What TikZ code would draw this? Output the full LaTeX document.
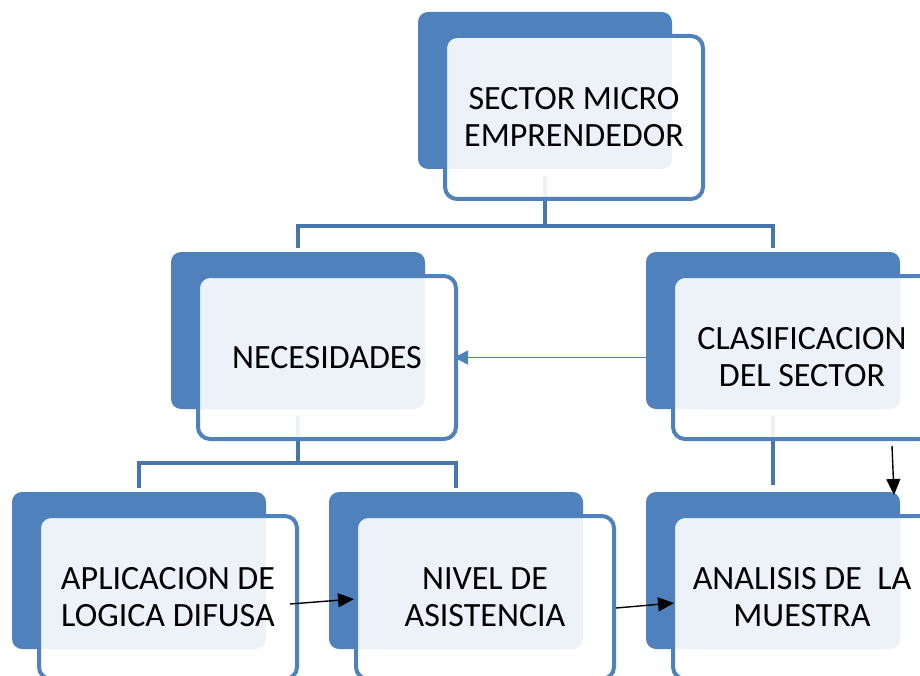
\documentclass[tikz,border=0pt]{standalone}
\usepackage{fontspec}
\setmainfont{Carlito}
\usetikzlibrary{arrows.meta,calc}
\definecolor{accblue}{RGB}{79,129,189}
\definecolor{connblue}{RGB}{72,118,172}
\tikzset{
  darkbox/.style={fill=accblue,draw=none,rounded corners=10pt,minimum width=254pt,minimum height=157pt,inner sep=0pt,outer sep=0pt},
  frontbox/.style={draw=accblue,line width=4pt,fill=white,fill opacity=0.9,text opacity=1,rounded corners=12pt,
    minimum width=258pt,minimum height=163pt,inner sep=0pt,outer sep=0pt,align=center,
    font=\fontsize{34}{37}\selectfont},
  conn/.style={draw=connblue,line width=4pt},
  blkarrow/.style={draw=black,line width=1.4pt,-{Triangle[length=16pt,width=14pt]}},
  bluearrow/.style={draw=accblue,line width=1.4pt,-{Triangle[length=14pt,width=14pt,fill=accblue]}}
}
\begin{document}
\begin{tikzpicture}[x=1pt,y=-1pt]
\useasboundingbox (0,0) rectangle (920,676);
\clip (0,0) rectangle (920,676);
% dark back rectangles
\node[darkbox] (topD) at (545,90.5) {};
\node[darkbox] (necD) at (298,330.5) {};
\node[darkbox] (claD) at (773,330.5) {};
\node[darkbox] (aplD) at (139,570.5) {};
\node[darkbox] (nivD) at (456,570.5) {};
\node[darkbox] (anaD) at (773,570.5) {};
% connectors
\coordinate (j1) at (545,226);
\coordinate (j2) at (298,463);
\draw[conn] ([yshift=-7pt]topD.south) -- (j1);
\draw[conn] ([yshift=4pt]necD.north) |- (j1) -| ([yshift=4pt]claD.north);
\draw[conn] ([yshift=-7pt]necD.south) -- (j2);
\draw[conn] ([yshift=4pt]aplD.north) |- (j2) -| ([yshift=4pt]nivD.north);
\draw[conn] ([yshift=-7pt]claD.south) -- ([yshift=7pt]anaD.north);
% front boxes
\node[frontbox] (topF) at (574,117.5) {SECTOR MICRO\\EMPRENDEDOR};
\node[frontbox] (necF) at (327,357.5) {NECESIDADES};
\node[frontbox] (claF) at (802,357.5) {CLASIFICACION\\DEL SECTOR};
\node[frontbox] (aplF) at (168,597.5) {APLICACION DE\\LOGICA DIFUSA};
\node[frontbox] (nivF) at (485,597.5) {NIVEL DE\\ASISTENCIA};
\node[frontbox] (anaF) at (802,597.5) {ANALISIS DE\ \ LA\\MUESTRA};
% arrows
\draw[bluearrow] (claD.west |- necF.east) -- ([xshift=-2pt]necF.east);
\draw[blkarrow] ([shift={(-7pt,-6.5pt)}]aplF.east) -- ([shift={(-2pt,-1.5pt)}]nivF.west);
\draw[blkarrow] ([shift={(2pt,-10.5pt)}]nivF.east) -- ([shift={(1pt,-5.5pt)}]anaF.west);
\draw[blkarrow] ([shift={(90pt,-7pt)}]claF.south) -- ([shift={(-6pt,-3pt)}]anaD.north east);
\end{tikzpicture}
\end{document}
